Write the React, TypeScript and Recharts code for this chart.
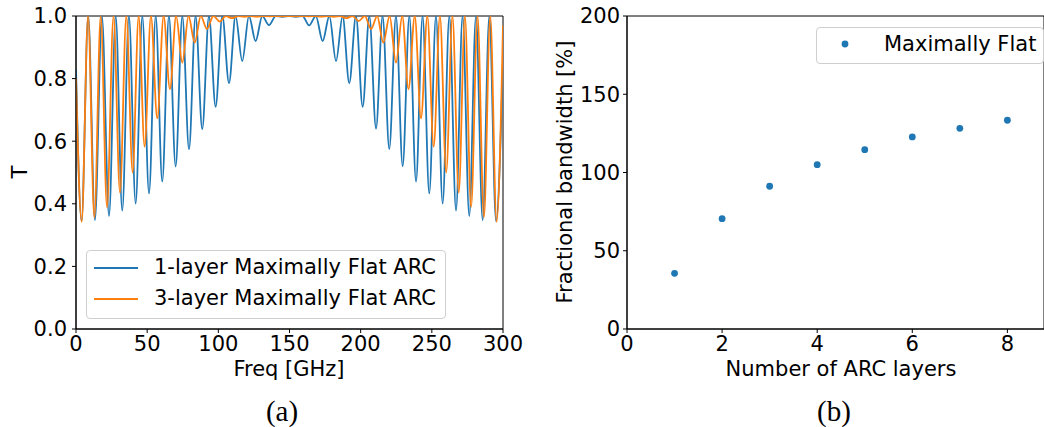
import React from 'react';
import {
  LineChart,
  Line,
  ScatterChart,
  Scatter,
  XAxis,
  YAxis,
  ReferenceArea,
  Legend,
} from 'recharts';

// ---------- Panel (a): transmission vs frequency ----------
const freqTicks = [0, 50, 100, 150, 200, 250, 300];
const tTicks = [0, 0.2, 0.4, 0.6, 0.8, 1.0];

// 1-layer Maximally Flat ARC: extrema (freq [GHz], T)
const oneLayerFreq = [
  0, 3.9, 8.6, 13.3, 18.2, 23.2, 27.9, 32.5, 37.2, 41.9, 46.6, 51.3, 56.0, 60.6, 65.3, 70.0,
  74.7, 79.4, 84.0, 88.7, 93.4, 98.1, 102.8, 107.5, 112.1, 116.8, 121.5, 126.2, 130.9, 135.6,
  140.3, 145.0, 149.7, 154.4, 159.1, 163.8, 168.5, 173.3, 178.0, 182.7, 187.3, 192.0, 196.7,
  201.4, 206.1, 210.8, 215.4, 220.1, 224.8, 229.5, 234.2, 238.9, 243.5, 248.2, 252.9, 257.6,
  262.3, 267.0, 271.6, 276.3, 281.0, 285.7, 290.4, 295.1, 300,
];
const oneLayerT = [
  0.83, 0.345, 1, 0.348, 1, 0.361, 1, 0.378, 1, 0.401, 1, 0.433, 1, 0.471, 1, 0.519,
  1, 0.574, 1, 0.639, 1, 0.71, 1, 0.785, 1, 0.856, 1, 0.92, 1, 0.971,
  1, 0.997, 1, 0.997, 1, 0.97, 1, 0.92, 1, 0.856, 1, 0.785, 1,
  0.71, 1, 0.64, 1, 0.575, 1, 0.52, 1, 0.471, 1, 0.433, 1, 0.401,
  1, 0.378, 1, 0.361, 1, 0.348, 1, 0.345, 0.86,
];

// 3-layer Maximally Flat ARC
const threeLayerFreq = [
  0, 4.0, 8.45, 12.9, 17.35, 21.8, 26.35, 30.9, 35.35, 39.8, 44.0, 48.2, 52.65, 57.1, 61.55,
  66.0, 70.35, 74.7, 79.05, 83.4, 87.7, 92.0, 96.5, 101.0, 105.3, 109.6, 114.0, 118.4, 122.8,
  127.2, 131.6, 136.0, 140.4, 144.8, 149.75, 154.7, 159.1, 163.5, 167.9, 172.3, 176.7, 181.1,
  185.5, 189.9, 194.25, 198.6, 202.95, 207.3, 211.6, 215.9, 220.35, 224.8, 229.2, 233.6, 238.0,
  242.4, 246.85, 251.3, 255.7, 260.1, 264.5, 268.9, 273.25, 277.6, 282.1, 286.6, 291.05, 295.5, 300,
];
const threeLayerT = [
  0.8, 0.342, 1, 0.356, 1, 0.389, 1, 0.436, 1, 0.5, 1, 0.583, 1, 0.673, 1,
  0.766, 1, 0.851, 1, 0.915, 1, 0.958, 1, 0.982, 1, 0.993, 1, 0.997, 1,
  0.998, 1, 0.999, 1, 0.999, 1, 0.999, 1, 0.999, 1, 0.998, 1, 0.997,
  1, 0.993, 1, 0.984, 1, 0.958, 1, 0.915, 1, 0.851, 1, 0.766, 1,
  0.673, 1, 0.583, 1, 0.5, 1, 0.436, 1, 0.39, 1, 0.357, 1, 0.342, 0.97,
];

const seriesNames = ['1-layer Maximally Flat ARC', '3-layer Maximally Flat ARC'];
const seriesColors = ['#1f77b4', '#ff7f0e'];

// ---------- Panel (b): fractional bandwidth ----------
const layerCounts = [1, 2, 3, 4, 5, 6, 7, 8];
const bandwidthPct = [35.6, 70.5, 91.2, 105.0, 114.6, 122.7, 128.2, 133.4];
const layerTicks = [0, 2, 4, 6, 8];
const bwTicks = [0, 50, 100, 150, 200];
const scatterName = 'Maximally Flat';

const oneLayerData = oneLayerFreq.map((f, i) => ({ f, t: oneLayerT[i] }));
const threeLayerData = threeLayerFreq.map((f, i) => ({ f, t: threeLayerT[i] }));
const bwData = layerCounts.map((n, i) => ({ n, bw: bandwidthPct[i] }));

const FONT = '"DejaVu Sans", Verdana, sans-serif';
const SERIF = '"Liberation Serif", "DejaVu Serif", serif';
const tickStyle = { fill: '#000', fontSize: 21, fontFamily: FONT };
const axisLine = { stroke: '#000', strokeWidth: 1 };

const LeftLegend = () => (
  <div
    style={{
      width: 360,
      height: 69,
      boxSizing: 'border-box',
      border: '1px solid #cfcfcf',
      borderRadius: 4,
      background: 'rgba(255,255,255,0.8)',
      position: 'relative',
      fontFamily: FONT,
      fontSize: 21,
      color: '#000',
    }}
  >
    {seriesNames.map((name, i) => (
      <React.Fragment key={name}>
        <svg
          width={44}
          height={4}
          style={{ position: 'absolute', left: 7, top: 16 + i * 31 - 1 }}
        >
          <line x1={0} y1={2} x2={44} y2={2} stroke={seriesColors[i]} strokeWidth={1.8} />
        </svg>
        <div
          style={{
            position: 'absolute',
            left: 67,
            top: 16 + i * 31 - 13,
            lineHeight: '26px',
            whiteSpace: 'nowrap',
          }}
        >
          {name}
        </div>
      </React.Fragment>
    ))}
  </div>
);

const RightLegend = () => (
  <div
    style={{
      width: 228,
      height: 37,
      boxSizing: 'border-box',
      border: '1px solid #cfcfcf',
      borderRadius: 4,
      background: 'rgba(255,255,255,0.8)',
      position: 'relative',
      fontFamily: FONT,
      fontSize: 21,
      color: '#000',
    }}
  >
    <svg width={10} height={10} style={{ position: 'absolute', left: 23, top: 11 }}>
      <circle cx={5} cy={5} r={3.4} fill="#1f77b4" />
    </svg>
    <div
      style={{
        position: 'absolute',
        left: 67,
        top: 3,
        lineHeight: '26px',
        whiteSpace: 'nowrap',
      }}
    >
      {scatterName}
    </div>
  </div>
);

const Dot = (props: any) => <circle cx={props.cx} cy={props.cy} r={3.4} fill="#1f77b4" />;

const textAbs = (extra: React.CSSProperties): React.CSSProperties => ({
  position: 'absolute',
  fontFamily: FONT,
  fontSize: 21,
  color: '#000',
  whiteSpace: 'nowrap',
  lineHeight: '24px',
  ...extra,
});

export default function App() {
  return (
    <div
      style={{
        position: 'absolute',
        left: 0,
        top: 0,
        width: 1044,
        height: 427,
        background: '#fff',
        overflow: 'hidden',
      }}
    >
      <div style={{ position: 'absolute', left: 0, top: 0 }}>
        <LineChart width={540} height={427} margin={{ top: 16, right: 37, bottom: 68, left: 16 }}>
          <XAxis
            type="number"
            dataKey="f"
            domain={[0, 300]}
            ticks={freqTicks}
            allowDataOverflow
            height={30}
            tick={tickStyle}
            tickSize={4}
            tickMargin={3}
            axisLine={axisLine}
            tickLine={axisLine}
            interval={0}
          />
          <YAxis
            type="number"
            domain={[0, 1]}
            ticks={tTicks}
            allowDataOverflow
            width={60}
            tick={tickStyle}
            tickSize={4}
            tickMargin={5}
            axisLine={axisLine}
            tickLine={axisLine}
            tickFormatter={(v: number) => v.toFixed(1)}
            interval={0}
          />
          <Line
            data={oneLayerData}
            dataKey="t"
            name={seriesNames[0]}
            type="monotone"
            stroke={seriesColors[0]}
            strokeWidth={1.8}
            dot={false}
            activeDot={false}
            isAnimationActive={false}
          />
          <Line
            data={threeLayerData}
            dataKey="t"
            name={seriesNames[1]}
            type="monotone"
            stroke={seriesColors[1]}
            strokeWidth={1.8}
            dot={false}
            activeDot={false}
            isAnimationActive={false}
          />
          <ReferenceArea x1={0} x2={300} y1={0} y2={1} fill="none" stroke="#000" strokeWidth={1} />
          <Legend
            verticalAlign="middle"
            align="center"
            content={() => <LeftLegend />}
            wrapperStyle={{ left: 86, top: 250, width: 360, height: 69 }}
          />
        </LineChart>
      </div>

      <div style={{ position: 'absolute', left: 540, top: 0 }}>
        <ScatterChart width={504} height={427} margin={{ top: 16, right: 0, bottom: 68, left: 27 }}>
          <XAxis
            type="number"
            dataKey="n"
            domain={[0, 8.77]}
            ticks={layerTicks}
            allowDataOverflow
            height={30}
            tick={tickStyle}
            tickSize={4}
            tickMargin={3}
            axisLine={axisLine}
            tickLine={axisLine}
            interval={0}
          />
          <YAxis
            type="number"
            dataKey="bw"
            domain={[0, 200]}
            ticks={bwTicks}
            allowDataOverflow
            width={60}
            tick={tickStyle}
            tickSize={4}
            tickMargin={3}
            axisLine={axisLine}
            tickLine={axisLine}
            interval={0}
          />
          <ReferenceArea x1={0} x2={8.77} y1={0} y2={200} fill="none" stroke="#000" strokeWidth={1} />
          <Scatter
            data={bwData}
            name={scatterName}
            fill="#1f77b4"
            shape={Dot}
            isAnimationActive={false}
          />
          <Legend
            verticalAlign="middle"
            align="center"
            content={() => <RightLegend />}
            wrapperStyle={{ left: 276, top: 27, width: 228, height: 37 }}
          />
        </ScatterChart>
      </div>

      {/* axis titles */}
      <div style={textAbs({ left: 20, top: 172, transform: 'translate(-50%, -50%) rotate(-90deg)' })}>T</div>
      <div style={textAbs({ left: 289, top: 369, transform: 'translate(-50%, -50%)' })}>Freq [GHz]</div>
      <div
        style={textAbs({ left: 565, top: 172, transform: 'translate(-50%, -50%) rotate(-90deg)' })}
      >
        Fractional bandwidth [%]
      </div>
      <div style={textAbs({ left: 841, top: 369, transform: 'translate(-50%, -50%)' })}>
        Number of ARC layers
      </div>

      {/* panel captions */}
      <div
        style={{
          position: 'absolute',
          left: 282,
          top: 411,
          transform: 'translate(-50%, -50%)',
          fontFamily: SERIF,
          fontSize: 29,
          lineHeight: '32px',
          color: '#000',
        }}
      >
        (a)
      </div>
      <div
        style={{
          position: 'absolute',
          left: 834,
          top: 411,
          transform: 'translate(-50%, -50%)',
          fontFamily: SERIF,
          fontSize: 29,
          lineHeight: '32px',
          color: '#000',
        }}
      >
        (b)
      </div>
    </div>
  );
}
